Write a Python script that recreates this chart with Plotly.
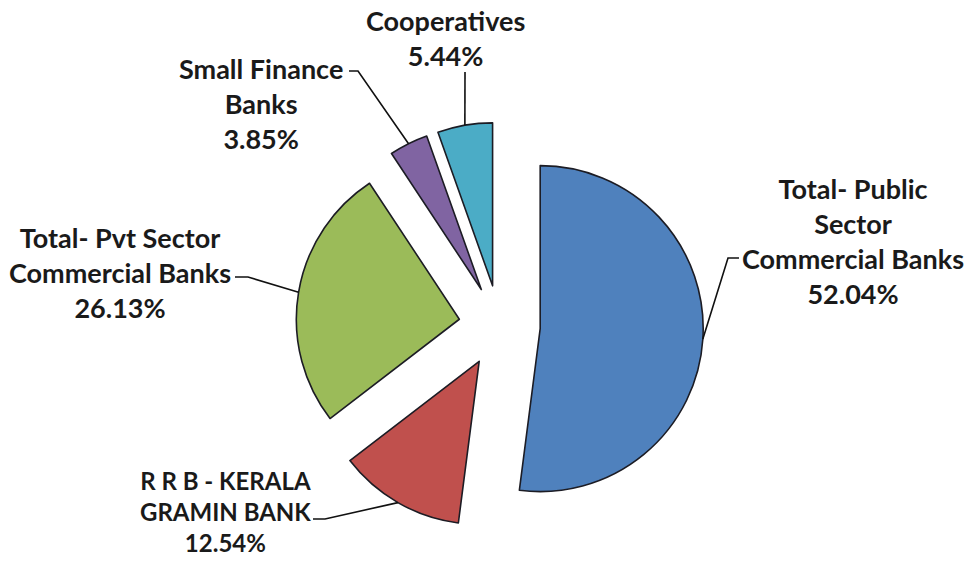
import math
import plotly.graph_objects as go

# ---- data ----
categories = ["Total- Public Sector Commercial Banks", "R R B - KERALA GRAMIN BANK",
              "Total- Pvt Sector Commercial Banks", "Small Finance Banks", "Cooperatives"]
shares = [52.04, 12.54, 26.13, 3.85, 5.44]
label_lines = [["Total- Public", "Sector", "Commercial Banks"],
               ["R R B - KERALA", "GRAMIN BANK"],
               ["Total- Pvt Sector", "Commercial Banks"],
               ["Small Finance", "Banks"],
               ["Cooperatives"]]
colors = ["#4F81BD", "#C0504D", "#9BBB59", "#8064A2", "#4BACC6"]

# ---- layout constants ----
W, H = 969, 561
PULL = 0.25
DOM_X = [0.3052, 0.7258]
DOM_Y = [0.0557, 0.7821]
FONT_FAMILY = "Lato, 'Open Sans', sans-serif"
font_sizes = [27, 24, 27, 27, 27]

# label block centres (pixels) and leader elbows (pixels)
label_pos = [(853, 241), (225, 512), (120, 272), (261, 103), (445, 38)]
elbows = [[(728, 258), (739, 258)],
          [(325, 519), (313, 519)],
          [(248, 277), (235, 277)],
          [(358, 71), (349, 71)],
          [(465, 72)]]

fig = go.Figure(go.Pie(
    labels=categories, values=shares, sort=False, direction="clockwise", rotation=0,
    pull=[PULL] * len(shares), marker=dict(colors=colors, line=dict(color="#1c1c24", width=1.6)),
    textinfo="none", hoverinfo="label+percent", showlegend=False,
    domain=dict(x=DOM_X, y=DOM_Y),
))

# pie geometry in pixels (mirrors plotly's own sizing)
box_w = W * (DOM_X[1] - DOM_X[0])
box_h = H * (DOM_Y[1] - DOM_Y[0])
r = min(box_w, box_h) / (2 + 2 * PULL)
cx = W * (DOM_X[0] + DOM_X[1]) / 2
cy = H * (1 - DOM_Y[0]) - box_h / 2

total = sum(shares)
cum = 0.0
shapes = []
annotations = []
for i, v in enumerate(shares):
    mid = (cum + v / 2) / total * 2 * math.pi
    cum += v
    dist = r * (1 + PULL)
    px, py = cx + dist * math.sin(mid), cy - dist * math.cos(mid)
    pts = [(px, py)] + elbows[i]
    path = "M " + " L ".join(f"{x / W:.5f},{1 - y / H:.5f}" for x, y in pts)
    shapes.append(dict(type="path", path=path, xref="paper", yref="paper",
                       line=dict(color="#111111", width=1.6)))
    lines = label_lines[i] + [f"{v:.2f}%"]
    text = "<br>".join(f"<b>{s}</b>" for s in lines)
    lx, ly = label_pos[i]
    annotations.append(dict(text=text, x=lx / W, y=1 - ly / H, xref="paper", yref="paper",
                            showarrow=False, align="center", xanchor="center", yanchor="middle",
                            font=dict(family=FONT_FAMILY, size=font_sizes[i], color="#1a1a1a")))

fig.update_layout(width=W, height=H, margin=dict(l=0, r=0, t=0, b=0),
                  paper_bgcolor="white", plot_bgcolor="white",
                  shapes=shapes, annotations=annotations,
                  font=dict(family=FONT_FAMILY))

fig.write_html("out.html", config={"displayModeBar": False},
               post_script="document.body.style.margin='0px';")
